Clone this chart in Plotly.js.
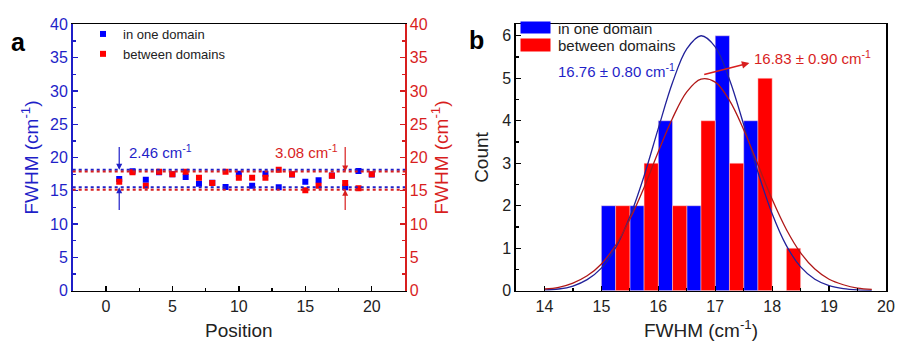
<!DOCTYPE html>
<html>
<head>
<meta charset="utf-8">
<script src="https://cdn.plot.ly/plotly-3.0.1.min.js"></script>
<style>html,body{margin:0;padding:0;background:#fff;}#chart{width:898px;height:345px;}</style>
</head>
<body>
<div id="chart"></div>
<script>
// ---------- data ----------
const positions = [1,2,3,4,5,6,7,8,9,10,11,12,13,14,15,16,17,18,19,20];
const blueFWHM = [16.77,17.95,16.67,17.80,17.50,17.07,16.07,16.20,15.57,17.57,15.77,17.57,15.53,17.45,16.37,16.57,17.30,15.55,17.97,17.45];
const redFWHM  = [16.37,17.78,15.77,17.87,17.47,17.87,16.97,16.17,17.87,16.97,16.97,16.97,18.17,17.47,15.07,15.77,17.27,16.17,15.37,17.47];
const blueBand = [15.55, 18.15];   // dotted guide lines, in one domain
const redBand  = [15.15, 17.90];   // dotted guide lines, between domains
const blueSpread = "2.46 cm<sup>-1</sup>";
const redSpread  = "3.08 cm<sup>-1</sup>";

const binCenters = [15.25,15.75,16.25,16.75,17.25,17.75,18.25];
const blueCounts = [2,2,4,2,6,4,0];
const redCounts  = [2,3,2,4,3,5,1];

const fitX     = [14.00,14.25,14.50,14.75,15.00,15.25,15.50,15.75,16.00,16.25,16.50,16.75,17.00,17.25,17.50,17.75,18.00,18.25,18.50,18.75,19.00,19.25,19.50,19.75];
const blueFitY = [0.02,0.04,0.11,0.26,0.53,1.01,1.74,2.70,3.82,4.90,5.69,6.00,5.74,4.97,3.91,2.79,1.81,1.06,0.56,0.27,0.12,0.05,0.02,0.01];
const redFitY  = [0.04,0.08,0.18,0.35,0.63,1.07,1.68,2.43,3.27,4.06,4.68,4.98,4.91,4.48,3.79,2.97,2.15,1.44,0.89,0.51,0.27,0.14,0.06,0.03];
const blueFitLabel = "16.76 ± 0.80 cm<sup>-1</sup>";
const redFitLabel  = "16.83 ± 0.90 cm<sup>-1</sup>";
const seriesNames = ["in one domain", "between domains"];

// ---------- styles ----------
const FONT = "Liberation Sans, Arial, Helvetica, sans-serif";
const BLUE = "#0000ff", RED = "#ff0000";
const BLUE_T = "#1f1fc8", RED_T = "#d81e1e";
const BLUE_L = "#22229a", RED_L = "#b01818";
const W = 898, H = 345;
const px = v => v / W, py = v => 1 - v / H;
const yDom = [py(290.7), py(24.3)];

const traces = [
  {type:"scatter", mode:"markers", x:positions, y:blueFWHM, name:seriesNames[0],
   marker:{symbol:"square", size:6, color:BLUE}, xaxis:"x", yaxis:"y", legend:"legend"},
  {type:"scatter", mode:"markers", x:positions, y:redFWHM, name:seriesNames[1],
   marker:{symbol:"square", size:6, color:RED}, xaxis:"x", yaxis:"y2", legend:"legend"},
  {type:"bar", x:binCenters, y:blueCounts, name:seriesNames[0], showlegend:false,
   marker:{color:BLUE, line:{color:"rgba(255,220,220,0.8)", width:0.6}}, xaxis:"x3", yaxis:"y3"},
  {type:"bar", x:binCenters, y:redCounts, name:seriesNames[1], showlegend:false,
   marker:{color:RED, line:{color:"rgba(255,220,220,0.8)", width:0.6}}, xaxis:"x3", yaxis:"y3"},
  {type:"scatter", mode:"lines", x:fitX, y:blueFitY, showlegend:false, hoverinfo:"skip",
   line:{color:BLUE_L, width:1.3, shape:"spline"}, xaxis:"x3", yaxis:"y3"},
  {type:"scatter", mode:"lines", x:fitX, y:redFitY, showlegend:false, hoverinfo:"skip",
   line:{color:RED_L, width:1.3, shape:"spline"}, xaxis:"x3", yaxis:"y3"}
];

const tickF = {family:FONT, size:16, color:"#222"};
const titleF = {family:FONT, size:19, color:"#222"};
const commonAx = {showgrid:false, zeroline:false, showline:true, linewidth:1.6,
  ticks:"inside", ticklen:5, tickwidth:1.3, automargin:false};

const shapes = [];
[blueBand, redBand].forEach((band, i) => {
  band.forEach(v => shapes.push({type:"line", xref:"x domain", yref:"y", x0:0, x1:1, y0:v, y1:v,
    line:{color: i === 0 ? BLUE_T : RED_T, width:2, dash:"dot"}}));
});
// legend swatches for panel b
shapes.push({type:"rect", xref:"paper", yref:"paper", x0:px(520.5), x1:px(550.5), y0:py(33.5), y1:py(21.5), fillcolor:BLUE, line:{width:0}});
shapes.push({type:"rect", xref:"paper", yref:"paper", x0:px(520.5), x1:px(550.5), y0:py(51.5), y1:py(38.5), fillcolor:RED, line:{width:0}});

const P = (o) => Object.assign({xref:"paper", yref:"paper", showarrow:false, xanchor:"center", yanchor:"middle"}, o);

const annotations = [
  P({text:"<b>a</b>", x:px(18), y:py(42), font:{family:FONT, size:25, color:"#000"}}),
  P({text:"<b>b</b>", x:px(476), y:py(40), font:{family:FONT, size:25, color:"#000"}}),
  // spread arrows panel a
  {xref:"x", yref:"y", axref:"x", ayref:"y", x:positions[0], y:blueBand[1], ax:positions[0], ay:21.8, text:"", showarrow:true,
   arrowhead:2, arrowsize:1, arrowwidth:1.2, arrowcolor:BLUE_T},
  {xref:"x", yref:"y", axref:"x", ayref:"y", x:positions[0], y:blueBand[0], ax:positions[0], ay:11.9, text:"", showarrow:true,
   arrowhead:2, arrowsize:1, arrowwidth:1.2, arrowcolor:BLUE_T},
  {xref:"x", yref:"y", axref:"x", ayref:"y", x:positions[17], y:redBand[1], ax:positions[17], ay:21.8, text:"", showarrow:true,
   arrowhead:2, arrowsize:1, arrowwidth:1.2, arrowcolor:RED_T},
  {xref:"x", yref:"y", axref:"x", ayref:"y", x:positions[17], y:redBand[0], ax:positions[17], ay:11.9, text:"", showarrow:true,
   arrowhead:2, arrowsize:1, arrowwidth:1.2, arrowcolor:RED_T},
  {xref:"x", yref:"y", x:1.55, y:20.9, xanchor:"left", yanchor:"middle", text:blueSpread, showarrow:false, font:{family:FONT, size:15, color:BLUE_T}},
  {xref:"x", yref:"y", x:17.6, y:20.9, xanchor:"right", yanchor:"middle", text:redSpread, showarrow:false, font:{family:FONT, size:15, color:RED_T}},
  // fit labels panel b
  {xref:"x3", yref:"y3", x:15.26, y:5.19, xanchor:"center", yanchor:"middle", text:blueFitLabel, showarrow:false, font:{family:FONT, size:15, color:BLUE_T}},
  {xref:"x3", yref:"y3", x:17.64, y:5.48, xanchor:"left", yanchor:"middle", text:redFitLabel, showarrow:false, font:{family:FONT, size:15, color:RED_T}},
  {xref:"x3", yref:"y3", axref:"x3", ayref:"y3", x:17.6, y:5.36, ax:16.78, ay:5.08, text:"", showarrow:true,
   arrowhead:2, arrowsize:1, arrowwidth:1.5, arrowcolor:RED_T},
  // legend text panel b
  P({x:px(556), y:py(28), xanchor:"left", text:seriesNames[0], font:{family:FONT, size:15, color:"#222"}}),
  P({x:px(556), y:py(45), xanchor:"left", text:seriesNames[1], font:{family:FONT, size:15, color:"#222"}})
];

const layout = {
  width:W, height:H, margin:{l:0, r:0, t:0, b:0}, paper_bgcolor:"#fff", plot_bgcolor:"#fff",
  font:{family:FONT, color:"#222"},
  showlegend:true, barmode:"group", bargap:0, bargroupgap:0,
  legend:{x:px(83), y:py(19), xanchor:"left", yanchor:"top", bgcolor:"rgba(0,0,0,0)",
          font:{family:FONT, size:13, color:"#222"}, itemwidth:30, tracegroupgap:0},
  xaxis: Object.assign({}, commonAx, {domain:[px(72.7), px(405)], anchor:"y", range:[-2.5, 22.5],
    tick0:0, dtick:5, minor:{dtick:2.5, ticks:"inside", ticklen:3, tickcolor:"#000"},
    linecolor:"#000", tickcolor:"#000", mirror:true, tickfont:tickF,
    title:{text:"Position", font:titleF, standoff:10}}),
  yaxis: Object.assign({}, commonAx, {domain:yDom, anchor:"x", range:[0, 40], tick0:0, dtick:5,
    minor:{dtick:2.5, ticks:"inside", ticklen:3, tickcolor:BLUE_T},
    linecolor:BLUE_T, tickcolor:BLUE_T, tickfont:{family:FONT, size:16, color:BLUE_T},
    title:{text:"FWHM (cm<sup>-1</sup>)", font:{family:FONT, size:19, color:BLUE_T}, standoff:6}}),
  yaxis2: Object.assign({}, commonAx, {domain:yDom, anchor:"x", overlaying:"y", side:"right", range:[0, 40], tick0:0, dtick:5,
    minor:{dtick:2.5, ticks:"inside", ticklen:3, tickcolor:RED_T},
    linecolor:RED_T, tickcolor:RED_T, tickfont:{family:FONT, size:16, color:RED_T},
    title:{text:"FWHM (cm<sup>-1</sup>)", font:{family:FONT, size:19, color:RED_T}, standoff:6}}),
  xaxis3: Object.assign({}, commonAx, {domain:[px(516), px(886)], anchor:"y3", range:[13.5, 20],
    tick0:14, dtick:1, minor:{dtick:0.5, ticks:"inside", ticklen:3, tickcolor:"#000"},
    linecolor:"#000", tickcolor:"#000", mirror:true, tickfont:tickF,
    title:{text:"FWHM (cm<sup>-1</sup>)", font:titleF, standoff:10}}),
  yaxis3: Object.assign({}, commonAx, {domain:yDom, anchor:"x3", range:[0, 6.27], tick0:0, dtick:1,
    minor:{dtick:0.5, ticks:"inside", ticklen:3, tickcolor:"#000"},
    linecolor:"#000", tickcolor:"#000", mirror:true, tickfont:tickF,
    title:{text:"Count", font:titleF, standoff:8}}),
  shapes:shapes, annotations:annotations
};

Plotly.newPlot("chart", traces, layout, {displayModeBar:false, staticPlot:true});
</script>
</body>
</html>
